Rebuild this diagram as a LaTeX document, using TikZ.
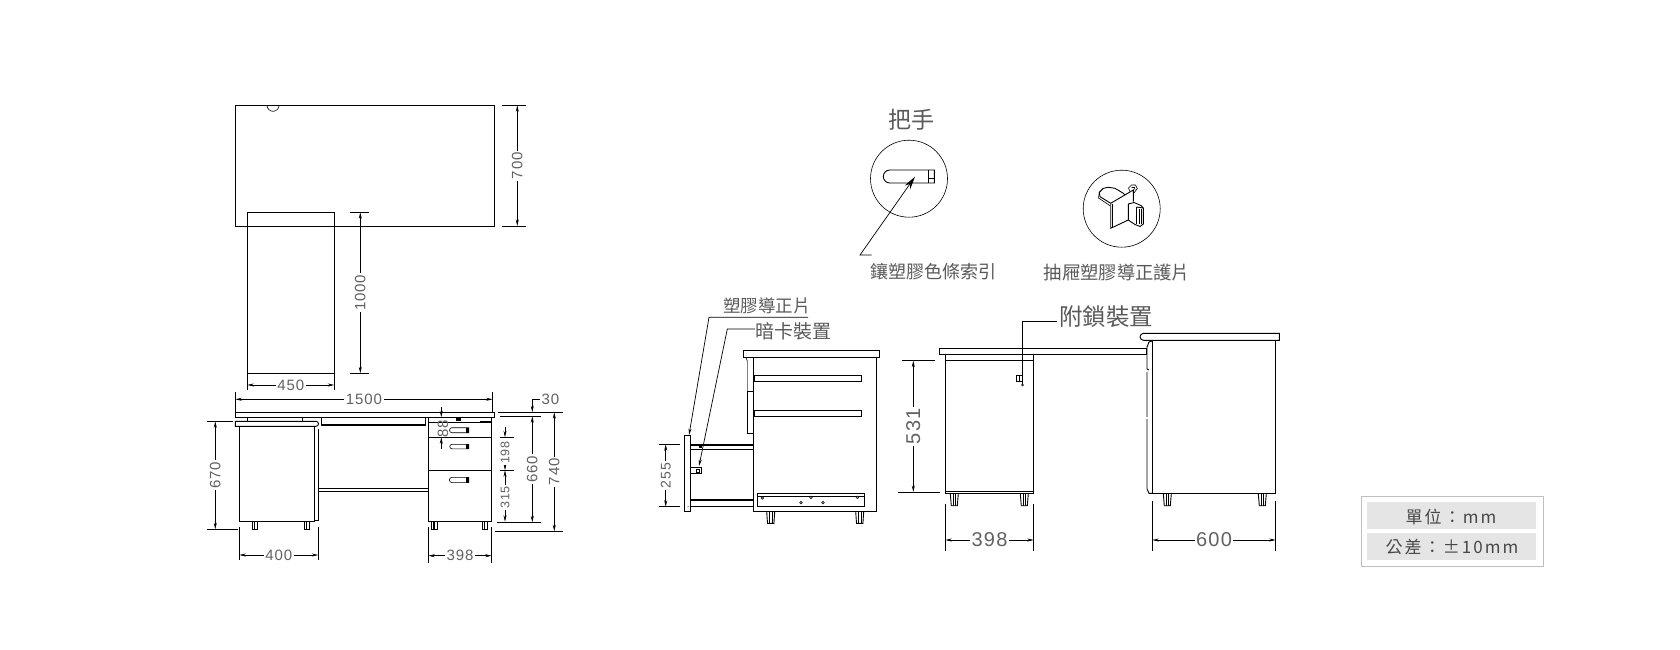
\documentclass[tikz,border=0pt]{standalone}
\usepackage{fontspec}
\setmainfont[LetterSpace=6]{Liberation Sans}
\newfontfamily\cjk{Noto Sans CJK TC}
\newfontfamily\boxfont[LetterSpace=12]{Noto Sans CJK TC}
\usetikzlibrary{arrows.meta}
\definecolor{inkgray}{gray}{0.38}
\definecolor{boxgray}{gray}{0.9}
\definecolor{boxline}{gray}{0.75}
\definecolor{boxtext}{gray}{0.28}
\tikzset{
  part/.style={line width=0.9pt},
  thin part/.style={line width=0.6pt},
  dimline/.style={line width=0.7pt},
  extline/.style={line width=0.7pt},
  dimtext/.style={font=\fontsize{#1}{#1}\selectfont,text=inkgray,fill=white,inner sep=1.5pt},
  dimtext/.default=15,
  captext/.style={font=\cjk\fontsize{#1}{#1}\selectfont,text=black!65,inner sep=0pt},
  boxtext/.style={text=boxtext,inner sep=0pt,font=\boxfont\fontsize{17}{17}\selectfont}
}
\begin{document}
\begin{tikzpicture}[x=1pt,y=-1pt,>={Stealth[length=6.5pt,width=3pt]}]
  \useasboundingbox (0,0) rectangle (1680,650);

  % top view
  \draw[part] (235.3,105.3) rectangle (494.7,226);
  \draw[thin part] (267,105.3) arc (180:0:6);
  \draw[part] (247.3,212.3) rectangle (334.3,373.3);

  % front view
  \draw[part] (235.3,412.3) rectangle (494.7,417.3);
  \foreach \x in {247.3,302.3} \draw[part] (\x,417.3) -- (\x,421.3);
  \draw[part] (235.3,421.3) -- (316,421.3) arc (-90:90:2.5) -- (235.3,426.3) -- cycle;
  \draw[part] (239.3,426.3) rectangle (314.3,521.3);
  \draw[part] (318.3,429) -- (318.3,520.3) -- (314.3,520.3);
  \draw[part] (321.3,417.3) rectangle (425.7,425.3);
  \draw[line width=1.8pt] (321.3,424.6) -- (425.7,424.6);
  \draw[part] (318.3,488.3) -- (428.3,488.3) (318.3,491.5) -- (428.3,491.5);
  \draw[part] (428.3,417.3) rectangle (491.7,521.7);
  \draw[line width=1.8pt] (480,421.6) -- (491.7,421.6);
  \draw[part] (428.3,422.3) -- (480,422.3);
  \draw[part] (428.3,437.3) -- (491.7,437.3) (428.3,470.3) -- (491.7,470.3);
  \fill (455.5,417.3) rectangle (460.5,421);
  \foreach \y/\h/\r in {427.7/5/2.5,444.3/4.5/2.25,477.3/5.3/2.65} {
    \draw[thin part] (468.7,\y) -- (452,\y) arc (270:90:\r) -- (468.7,\y+\h) -- cycle;
    \fill (466.3,\y) rectangle (468.7,\y+\h);
  }
  \foreach \x in {252.3,304.3,431.7,482.3} {
    \draw[part] (\x,521.7) rectangle (\x+5.3,529.3);
    \fill (\x+1.5,521.7) rectangle (\x+3,529.3);
  }

  % drawer side view
  \draw[part] (743.3,350.3) rectangle (879.3,357.7);
  \draw[part] (753.3,357.7) rectangle (876,511.7);
  \foreach \y in {375.3,410.3} \draw[part] (754,\y) rectangle (861.7,\y+6);
  \draw[black!50,thin part] (747.3,361) -- (747.3,391.7);
  \draw[thin part] (746,357.7) -- (747.3,361);
  \draw[part] (753.3,391.7) -- (747.3,391.7) -- (747.3,433.3) -- (753.3,433.3);
  \draw[part] (684.3,435.3) rectangle (690.7,511.3);
  \fill (688,506.5) circle (0.5);
  \draw[line width=1.8pt] (690.7,444.6) -- (753.3,444.6) (690.7,500.3) -- (753.3,500.3);
  \draw[thin part] (690.7,449.3) -- (753.3,449.3) (690.7,506.7) -- (753.3,506.7);
  \fill (698.5,444) rectangle (702,447.5);
  \draw[part] (690.7,467.3) rectangle (701.7,473.3);
  \draw[thin part] (696.5,468.8) rectangle (699.5,471.8);
  \draw[part] (757.3,493.3) rectangle (864.7,506.7);
  \draw[thin part] (757.3,496.7) -- (864.7,496.7);
  \foreach \x/\y in {762.3/498,811/497.3,857.3/497.3,801/502.7,823/502.7}
    \draw[thin part,fill=white] (\x,\y) circle (1.3);
  \foreach \x in {766.7,855.7} {
    \draw[part] (\x,511.7) -- (\x+0.8,523.3) -- (\x+7.2,523.3) -- (\x+8,511.7);
    \draw[thin part] (\x+2.7,511.7) -- (\x+2.7,523.3) (\x+5.3,511.7) -- (\x+5.3,523.3);
  }

  % back and side view
  \draw[part] (939.3,348.3) rectangle (1146.7,354.3);
  \draw[part] (945.3,354.3) rectangle (1033.7,493.7);
  \draw[part] (945.3,360) -- (1033.7,360);
  \draw[line width=1.3pt] (945.3,491.6) -- (1033.7,491.6);
  \draw[part] (1016,375.3) rectangle (1022.7,381.3);
  \draw[thin part] (1019,375.3) -- (1019,381.3);
  \draw[thin part] (1022.5,385) circle (1);
  \draw[part] (1279.3,333.3) -- (1143.5,333.3) arc (270:90:3.5) -- (1279.3,340.3) -- cycle;
  \draw[part] (1152.3,340.3) rectangle (1275.7,493.3);
  \draw[part] (1152.3,341) -- (1149,342) -- (1147,347) -- (1147,369) -- (1149,370);
  \draw[part] (1147,372) -- (1147,417) (1147,419) -- (1147,489) -- (1149,493.3) -- (1152.3,493.3);
  \foreach \x in {950.3,1020.3,1163.3,1258.3} {
    \draw[part] (\x,493.7) -- (\x+1,505.7) -- (\x+7,505.7) -- (\x+8,493.7);
    \draw[thin part] (\x+2.7,493.7) -- (\x+2.7,505.7) (\x+5.3,493.7) -- (\x+5.3,505.7);
  }

  % detail circles
  \draw[thin part] (909,178.7) circle (38.5);
  \draw[thin part] (1121.7,208.7) circle (38.5);
  \draw[part] (934.3,170) -- (889.8,170) arc (270:90:6.5) -- (934.3,183) -- cycle;
  \draw[part] (928.3,170) -- (928.3,183);
  \draw[line width=1.3pt] (928.3,178.3) -- (934.3,178.3);
  \draw[part] (1110.7,203.3) -- (1110.7,228.3) -- (1128.3,220);
  \draw[thin part] (1112.5,204) -- (1112.5,227.5);
  \draw[part] (1110.7,203.3) -- (1133.3,190) -- (1133.3,201.7);
  \draw[part] (1110.7,203.3) -- (1100,196.7) -- (1099.3,192.3) -- (1103.3,188.3) -- (1108.3,187.3)
    -- (1115,188.3) -- (1123.3,193.3) -- (1125,195);
  \draw[thin part] (1099.3,192.3) -- (1098.5,198) -- (1110,205.7);
  \draw[thin part] (1130,191.5) -- (1128.5,188) -- (1131.5,185) -- (1135.5,185) -- (1137.3,188.5) -- (1134,193);
  \draw[thin part] (1131.5,187.5) -- (1134.5,187.5) -- (1135,190);
  \draw[part] (1128.3,204) -- (1134,202.5) -- (1141,205.5) -- (1143.3,208) -- (1143.3,224) -- (1140,226.5)
    -- (1135,224.5) -- (1128.3,220) -- cycle;
  \draw[part] (1136.7,207) -- (1143.3,208);
  \draw[part] (1136.7,207) -- (1136.7,224);
  \draw[thin part] (1139,208.5) -- (1139,224) (1141,208.5) -- (1141,224);

  % dimensions, vertical: x / from / to / text / name / size
  \foreach \x/\a/\b/\t/\n/\s in {
      517.3/105.3/226/700/dimA/15,
      360.3/212.3/373.3/1000/dimB/15,
      215.3/421.3/529.3/670/dimC/15,
      532.3/416.3/522.3/660/dimD/15,
      554.3/412.3/531.3/740/dimE/15,
      665.7/444.3/506.7/255/dimF/14,
      913.3/360.7/492/531/dimG/20} {
    \draw[dimline,<->] (\x,\a) -- node[dimtext=\s,rotate=90] (\n) {\t} (\x,\b);
  }
  % dimensions, horizontal: y / from / to / text / name / size
  \foreach \y/\a/\b/\t/\n/\s in {
      385/247.3/334.3/450/dimH/15,
      399.3/235.3/492.7/1500/dimI/15,
      555/239.3/318.3/400/dimJ/15,
      555.7/428.3/491.7/398/dimK/15,
      540/945.3/1033.7/398/dimL/20,
      540/1152.3/1275.7/600/dimM/20} {
    \draw[dimline,<->] (\a,\y) -- node[dimtext=\s] (\n) {\t} (\b,\y);
  }
  % outside arrows on the small ones
  \draw[dimline,->] (441.3,407) -- (441.3,417.3);
  \draw[dimline,->] (441.3,449) -- (441.3,437.3);
  \node[dimtext=15,rotate=90,fill=none] (dimN) at (443,429) {88};
  \draw[dimline,->] (505,426.7) -- (505,437.3);
  \draw[dimline,->] (505,463) -- (505,470.3);
  \draw[dimline,->] (505,486) -- (505,470.3);
  \draw[dimline,->] (505,509) -- (505,521.7);
  \node[dimtext=12.5,rotate=90] (dimO) at (505,452.7) {198};
  \node[dimtext=12.5,rotate=90] (dimP) at (505,497.3) {315};
  \coordinate (thirtyend) at (540,399);
  \draw[dimline,->] (thirtyend) -- (532.3,399) -- (532.3,412.3);
  \node[dimtext=15,anchor=west] (dimQ) at (thirtyend) {30};

  % extension lines
  \draw[extline] (502,105.3) -- (526,105.3) (502,226) -- (526,226);
  \draw[extline] (350,212.3) -- (369,212.3) (350,373.3) -- (369,373.3);
  \draw[extline] (247.3,373.3) -- (247.3,390) (334.3,373.3) -- (334.3,390);
  \draw[extline] (235.3,392) -- (235.3,412) (492.7,392) -- (492.7,412);
  \draw[extline] (207.3,421.3) -- (232.7,421.3) (207.3,529.3) -- (238,529.3);
  \draw[extline] (239.3,527) -- (239.3,560) (318.3,527) -- (318.3,560);
  \draw[extline] (428.3,527) -- (428.3,563) (491.7,527) -- (491.7,563);
  \draw[extline] (498.3,412.3) -- (562.7,412.3) (495,531.3) -- (562.7,531.3);
  \draw[extline] (500,416.3) -- (540.7,416.3) (497,522) -- (540.7,522);
  \draw[extline] (500,437.3) -- (514,437.3) (500,470.3) -- (514,470.3);
  \draw[extline] (659,444.3) -- (680,444.3) (659,506.7) -- (680,506.7);
  \draw[extline] (901.7,360.7) -- (935,360.7) (898.3,492) -- (940,492);
  \draw[extline] (945.3,504) -- (945.3,550.7) (1033.7,504) -- (1033.7,550.7);
  \draw[extline] (1152.3,500.7) -- (1152.3,550.7) (1275.7,500.7) -- (1275.7,550.7);

  % leaders
  \node[captext=23] (handlelbl) at (911,120) {把手};
  \node[captext=18] (striplbl) at (933,272) {鑲塑膠色條索引};
  \node[captext=18.3] (guidelbl) at (1117,273) {抽屜塑膠導正護片};
  \node[captext=17.5] (guidetxt) at (767,305.5) {塑膠導正片};
  \node[captext=19] (hiddentxt) at (793,331.7) {暗卡裝置};
  \node[captext=23.5] (locktxt) at (1106,316.7) {附鎖裝置};
  \coordinate (stripend) at (871.7,255);
  \coordinate (stripknee) at (860,255);
  \coordinate (striptip) at (915,176.7);
  \draw[dimline,-{Stealth[length=13pt,width=6.5pt]}] (stripend) -- (stripknee) -- (striptip);
  \coordinate (guideend) at (808,317.3);
  \coordinate (guideknee) at (709,317.3);
  \coordinate (guidetip) at (689,435);
  \draw[dimline,->] (guideend) -- (guideknee) -- (guidetip);
  \coordinate (hiddenend) at (755,329);
  \coordinate (hiddenknee) at (727.3,329);
  \coordinate (hiddentip) at (699,466);
  \draw[dimline,->] (hiddenend) -- (hiddenknee) -- (hiddentip);
  \coordinate (lockend) at (1056.7,321.3);
  \coordinate (lockknee) at (1022.3,321.3);
  \coordinate (locktip) at (1022.3,384);
  \draw[dimline] (lockend) -- (lockknee) -- (locktip);

  % unit box
  \draw[boxline,line width=1pt] (1361.7,496.7) rectangle (1543.3,566.3);
  \foreach \y in {502,533} \fill[boxgray] (1367,\y) rectangle (1536,\y+27);
  \node[boxtext] (unitlbl) at (1451,516.5) {單位：mm};
  \node[boxtext] (tollbl) at (1452,547.5) {公差：±10mm};
\end{tikzpicture}
\end{document}
